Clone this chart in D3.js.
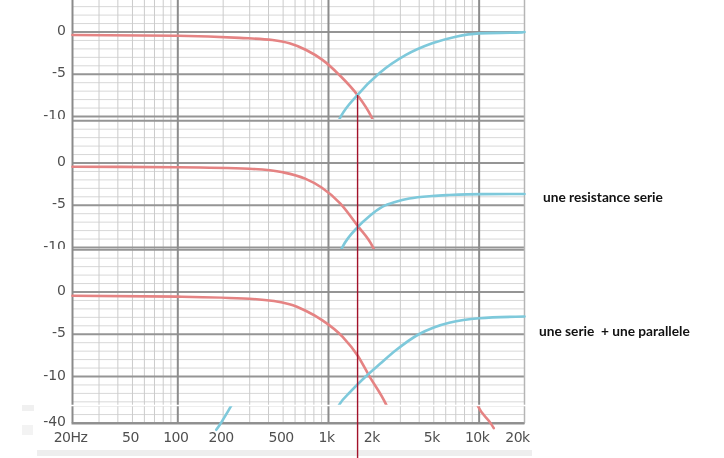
<!DOCTYPE html>
<html>
<head>
<meta charset="utf-8">
<script src="https://cdn.jsdelivr.net/npm/d3@7"></script>
<style>
  body { margin: 0; background: #fff; }
  svg { display: block; }
</style>
</head>
<body>
<div id="my_dataviz"></div>
<script>

// frequency (Hz) / level (dB)
var lp1Freq = [20, 100, 257, 425, 551, 711, 912, 1183, 1556, 1915, 2100]
var lp1Db   = [-0.36, -0.45, -0.7, -0.95, -1.34, -2.13, -3.3, -5.1, -7.46, -9.94, -11.5]
var hp1Freq = [1100, 1213, 1556, 2173, 3266, 4877, 7000, 10000, 19250, 20000]
var hp1Db   = [-11.5, -9.94, -7.46, -4.89, -2.72, -1.34, -0.55, -0.16, -0.04, 0]

var lp2Freq = [20, 100, 299, 498, 700, 900, 1200, 1572, 1964, 2150]
var lp2Db   = [-0.44, -0.5, -0.68, -1.1, -1.85, -2.9, -4.8, -7.5, -9.9, -11.5]
var hp2Freq = [1130, 1242, 1572, 1867, 2286, 2805, 3435, 4881, 6325, 10500, 20000]
var hp2Db   = [-11.5, -9.9, -7.54, -6.3, -5.17, -4.58, -4.2, -3.9, -3.79, -3.68, -3.67]

var lp3Freq = [20, 100, 299, 551, 711, 912, 1242, 1572, 1867, 2410, 2650]
var lp3Db   = [-0.45, -0.55, -0.8, -1.45, -2.25, -3.35, -5.3, -7.6, -9.96, -13.3, -15]
var hp3Freq = [1060, 1183, 1400, 1767, 2200, 2800, 3980, 5000, 6325, 10000, 20000]
var hp3Db   = [-15, -13.3, -11.8, -10, -8.5, -6.9, -5, -4.2, -3.65, -3.1, -2.9]

// bottom strip (lower part of the last plot, around -40 dB)
var lp4Freq = [9300, 9730, 11940, 12500]
var lp4Db   = [-37, -37.87, -40.04, -40.6]
var hp4Freq = [180, 190, 226.6, 240]
var hp4Db   = [-40.8, -40.2, -37.95, -37.2]

var yTicks = [0, -5, -10]
var xTickFreq  = [20, 50, 100, 200, 500, 1000, 2000, 5000, 10000, 20000]
var xTickLabel = ['20Hz', '50', '100', '200', '500', '1k', '2k', '5k', '10k', '20k']

var markerFreq = 1560

var labels = ['une resistance serie', 'une serie  + une parallele']


var width = 724, height = 458

var svg = d3.select("#my_dataviz")
    .append("svg")
      .attr("width", width)
      .attr("height", height)

var defs = svg.append("defs")
defs.append("filter").attr("id", "soft")
    .append("feGaussianBlur").attr("stdDeviation", 0.55)

var x = d3.scaleLog().domain([20, 20000]).range([72.5, 524.5])

// each screenshot: where its 0 dB line sits and the band of the page it covers
var panels = [
    {y0: 32,  top: 0,   bottom: 119, lp: [lp1Freq, lp1Db], hp: [hp1Freq, hp1Db]},
    {y0: 163, top: 119, bottom: 249, lp: [lp2Freq, lp2Db], hp: [hp2Freq, hp2Db]},
    {y0: 292, top: 249, bottom: 405, lp: [lp3Freq, lp3Db], hp: [hp3Freq, hp3Db]}
]

var pxPerDb = 8.45

// faint leftovers of the screenshot around the plot
svg.append("line").attr("x1", 20).attr("x2", 20).attr("y1", 0).attr("y2", 395)
    .style("stroke", "#f3f3f3").style("stroke-width", 1.5)
svg.append("rect").attr("x", 22).attr("y", 400).attr("width", 12).attr("height", 11).style("fill", "#f0f0f0")
svg.append("rect").attr("x", 22).attr("y", 425).attr("width", 11).attr("height", 10).style("fill", "#f3f3f3")
svg.append("rect").attr("x", 37).attr("y", 450).attr("width", 495).attr("height", 6).style("fill", "#eeeeee")

var plot = svg.append("g").attr("filter", "url(#soft)")

// grid frequencies, 1..9 per decade
var gridFreq = []
;[10, 100, 1000, 10000].forEach(function(dec) {
    for (var k = 1; k < 10; k++) {
        var f = dec * k
        if (f >= 20 && f <= 20000) gridFreq.push(f)
    }
})
gridFreq.push(20000)
var isMajor = function(f) { return f == 100 || f == 1000 || f == 10000 }

var lineGen = function(y) {
    return d3.line()
        .x(function(d) { return x(d[0]) })
        .y(function(d) { return y(d[1]) })
        .curve(d3.curveMonotoneX)
}

function drawGrid(g, y, dbMin, dbMax, top, bottom) {
    var dbs = d3.range(Math.ceil(dbMin), Math.floor(dbMax) + 1)
    g.append("g").selectAll("line")
        .data(dbs.filter(function(d) { return d % 5 != 0 }))
        .enter().append("line")
        .attr("x1", x(20)).attr("x2", x(20000))
        .attr("y1", function(d) { return y(d) }).attr("y2", function(d) { return y(d) })
        .style("stroke", "#d8d8d8").style("stroke-width", 1)

    g.append("g").selectAll("line")
        .data(gridFreq.filter(function(f) { return !isMajor(f) }))
        .enter().append("line")
        .attr("x1", function(f) { return x(f) }).attr("x2", function(f) { return x(f) })
        .attr("y1", top).attr("y2", bottom)
        .style("stroke", "#cbcbcb").style("stroke-width", 1)

    g.append("g").selectAll("line")
        .data(dbs.filter(function(d) { return d % 5 == 0 }))
        .enter().append("line")
        .attr("x1", x(20)).attr("x2", x(20000))
        .attr("y1", function(d) { return y(d) }).attr("y2", function(d) { return y(d) })
        .style("stroke", "#959595").style("stroke-width", 1.8)

    g.append("g").selectAll("line")
        .data(gridFreq.filter(isMajor))
        .enter().append("line")
        .attr("x1", function(f) { return x(f) }).attr("x2", function(f) { return x(f) })
        .attr("y1", top).attr("y2", bottom)
        .style("stroke", "#8c8c8c").style("stroke-width", 2)

    // plot frame, left and right
    g.append("line").attr("x1", x(20)).attr("x2", x(20)).attr("y1", top).attr("y2", bottom)
        .style("stroke", "#8a8a8a").style("stroke-width", 2)
    g.append("line").attr("x1", x(20000)).attr("x2", x(20000)).attr("y1", top).attr("y2", bottom)
        .style("stroke", "#b5b5b5").style("stroke-width", 1.5)
}

function drawCurve(g, y, fr, db, colour) {
    g.append("path")
        .datum(fr.map(function(f, i) { return [f, db[i]] }))
        .attr("d", lineGen(y))
        .style("fill", "none")
        .style("stroke", colour)
        .style("stroke-width", 2.6)
        .style("stroke-linecap", "round")
}

var red = "#e58383", blue = "#7ec9db"

panels.forEach(function(p, i) {
    defs.append("clipPath").attr("id", "clip" + i)
        .append("rect").attr("x", 0).attr("y", p.top).attr("width", 535).attr("height", p.bottom - p.top)

    var y = d3.scaleLinear().domain([0, -10]).range([p.y0, p.y0 + 10 * pxPerDb])
    var g = plot.append("g").attr("clip-path", "url(#clip" + i + ")")

    g.append("rect").attr("x", 0).attr("y", p.top).attr("width", 535).attr("height", p.bottom - p.top)
        .style("fill", "#fff")

    drawGrid(g, y, y.invert(p.bottom + 2), y.invert(p.top - 2), p.top, p.bottom)

    g.selectAll(".ylab")
        .data(yTicks)
        .enter().append("text")
        .attr("x", 66)
        .attr("y", function(d) { return y(d) - 2 })
        .attr("dy", "0.36em")
        .attr("text-anchor", "end")
        .style("font-family", "DejaVu Sans")
        .style("font-size", "14px")
        .style("fill", "#505050")
        .text(function(d) { return d })

    drawCurve(g, y, p.lp[0], p.lp[1], red)
    drawCurve(g, y, p.hp[0], p.hp[1], blue)
})

// bottom strip with the x axis
defs.append("clipPath").attr("id", "clipBottom")
    .append("rect").attr("x", 0).attr("y", 406).attr("width", 535).attr("height", 52)
var yb = d3.scaleLinear().domain([-40, -30]).range([423, 423 - 10 * pxPerDb])
var gb = plot.append("g").attr("clip-path", "url(#clipBottom)")
drawGrid(gb, yb, -40, -37, 406, 423)
gb.append("line").attr("x1", x(20) - 1).attr("x2", x(20000)).attr("y1", 423.5).attr("y2", 423.5)
    .style("stroke", "#8f8f8f").style("stroke-width", 2)
drawCurve(gb, yb, lp4Freq, lp4Db, red)
drawCurve(gb, yb, hp4Freq, hp4Db, blue)

gb.append("text")
    .attr("x", 66).attr("y", yb(-40)).attr("dy", "0.2em")
    .attr("text-anchor", "end")
    .style("font-family", "DejaVu Sans").style("font-size", "14px").style("fill", "#505050")
    .text("-40")

gb.selectAll(".xlab")
    .data(xTickFreq)
    .enter().append("text")
    .attr("x", function(d, i) { return i == xTickFreq.length - 1 ? x(d) - 7 : x(d) - 2 })
    .attr("y", 442)
    .attr("text-anchor", "middle")
    .style("font-family", "DejaVu Sans")
    .style("font-size", "14px")
    .style("letter-spacing", "-0.5px")
    .style("fill", "#505050")
    .text(function(d, i) { return xTickLabel[i] })

// splice line between the screenshots
svg.append("line").attr("x1", 68).attr("x2", 535).attr("y1", 405.5).attr("y2", 405.5)
    .style("stroke", "#fff").style("stroke-width", 1.5)

// crossover marker
svg.append("line")
    .attr("x1", x(markerFreq)).attr("x2", x(markerFreq))
    .attr("y1", 95).attr("y2", height)
    .style("stroke", "#a3122a").style("stroke-width", 1.4)

svg.selectAll(".note")
    .data(labels)
    .enter().append("text")
    .attr("x", function(d, i) { return i == 0 ? 543 : 539 })
    .attr("y", function(d, i) { return i == 0 ? 202 : 336 })
    .attr("xml:space", "preserve")
    .style("white-space", "pre")
    .style("font-family", "Lato")
    .style("font-weight", "bold")
    .style("font-size", "13.7px")
    .style("fill", "#111")
    .text(function(d) { return d })

</script>
</body>
</html>
